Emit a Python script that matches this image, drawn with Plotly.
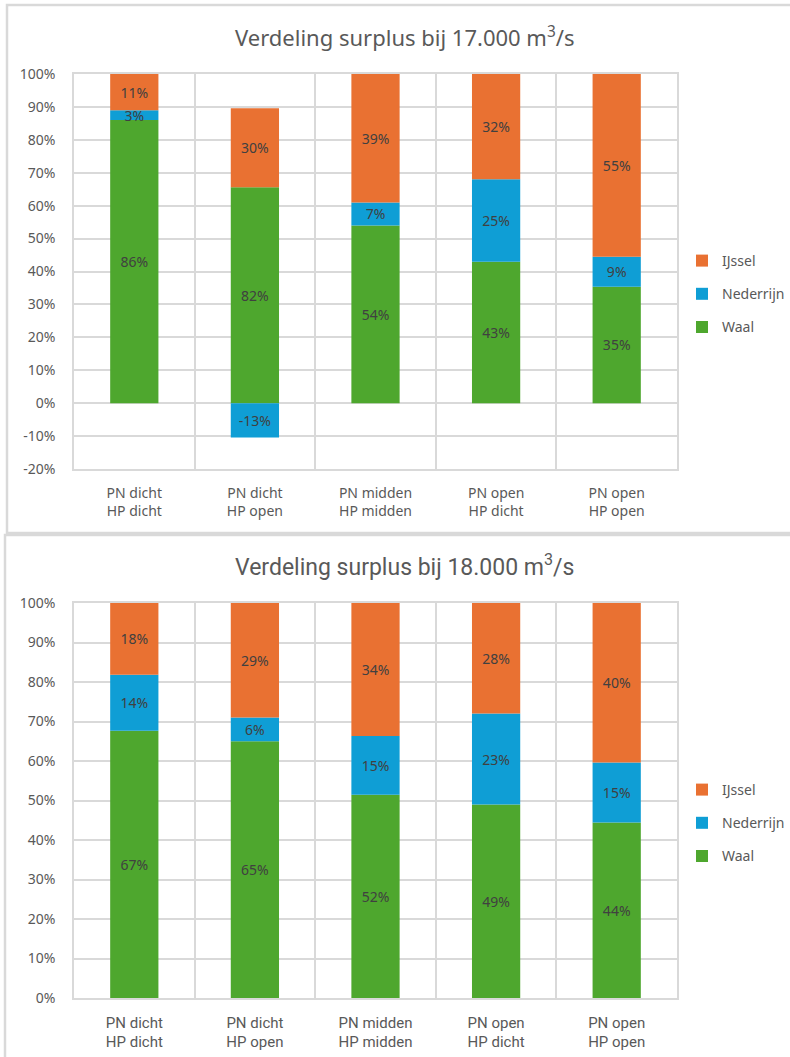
import plotly.graph_objects as go

# ---------------- data ----------------
categories = ["PN dicht<br>HP dicht", "PN dicht<br>HP open", "PN midden<br>HP midden",
              "PN open<br>HP dicht", "PN open<br>HP open"]
series_names = ["Waal", "Nederrijn", "IJssel"]
series_colors = ["#4EA72E", "#0F9ED5", "#E97132"]
legend_ranks = [3, 2, 1]

waal_17 = [86, 82, 54, 43, 35]
nederrijn_17 = [3, -13, 7, 25, 9]
ijssel_17 = [11, 30, 39, 32, 55]

waal_18 = [67, 65, 52, 49, 44]
nederrijn_18 = [14, 6, 15, 23, 15]
ijssel_18 = [18, 29, 34, 28, 40]

yticks_17 = [-20, -10, 0, 10, 20, 30, 40, 50, 60, 70, 80, 90, 100]
yticklabels_17 = ["-20%", "-10%", "0%", "10%", "20%", "30%", "40%", "50%", "60%", "70%", "80%", "90%", "100%"]
yticks_18 = [0, 10, 20, 30, 40, 50, 60, 70, 80, 90, 100]
yticklabels_18 = ["0%", "10%", "20%", "30%", "40%", "50%", "60%", "70%", "80%", "90%", "100%"]

title_17 = "Verdeling surplus bij 17.000 m<sup>3</sup>/s"
title_18 = "Verdeling surplus bij 18.000 m<sup>3</sup>/s"

# ---------------- styling ----------------
W, H = 790, 1057
GRID = "#D9D9D9"
TXT = "#595959"
LBL = "#404040"
FONT_TOP = "Noto Sans, Open Sans, sans-serif"
FONT_BOT = "Roboto, Noto Sans, sans-serif"


def px_x(p):
    return p / W


def px_y(p):
    return 1 - p / H


def normalise(series):
    # Excel 100%-stacked: share relative to the sum of absolute values
    totals = [sum(abs(s[i]) for s in series) for i in range(len(series[0]))]
    return [[100.0 * s[i] / totals[i] for i in range(len(s))] for s in series]


fig = go.Figure()

charts = [
    ([waal_17, nederrijn_17, ijssel_17], "x", "y", "legend", "a"),
    ([waal_18, nederrijn_18, ijssel_18], "x2", "y2", "legend2", "b"),
]

for series, xa, ya, lg, tag in charts:
    normed = normalise(series)
    for name, color, rank, raw, nv in zip(series_names, series_colors, legend_ranks, series, normed):
        fig.add_trace(go.Bar(
            x=categories, y=nv, name=name, marker=dict(color=color, line=dict(width=0)),
            text=[f"{v}%" for v in raw], textposition="inside", insidetextanchor="middle",
            textangle=0, constraintext="none",
            textfont=dict(color=LBL, size=14, family=FONT_TOP),
            xaxis=xa, yaxis=ya, legend=lg, legendgroup=tag + name, legendrank=rank,
            hoverinfo="skip",
        ))

axis_common = dict(showgrid=True, gridcolor=GRID, gridwidth=1.5, showline=True,
                   linecolor=GRID, linewidth=1.5, mirror=True, zeroline=False,
                   ticks="", fixedrange=True, automargin=False)

fig.update_layout(
    width=W, height=H, margin=dict(l=0, r=0, t=0, b=0, autoexpand=False),
    paper_bgcolor="white", plot_bgcolor="white",
    barmode="relative", bargap=0.6,
    showlegend=True,
    xaxis=dict(domain=[px_x(74), px_x(677)], anchor="y", tickson="boundaries",
               ticklabelstandoff=10,
               tickfont=dict(family=FONT_TOP, size=14, color=TXT), **axis_common),
    yaxis=dict(domain=[px_y(469), px_y(74)], anchor="x", range=[-20, 100],
               tickvals=yticks_17, ticktext=yticklabels_17, ticklabelstandoff=14,
               tickfont=dict(family=FONT_TOP, size=14, color=TXT), **axis_common),
    xaxis2=dict(domain=[px_x(74), px_x(677)], anchor="y2", tickson="boundaries",
                ticklabelstandoff=10,
                tickfont=dict(family=FONT_BOT, size=15, color=TXT), **axis_common),
    yaxis2=dict(domain=[px_y(998), px_y(603)], anchor="x2", range=[0, 100],
                tickvals=yticks_18, ticktext=yticklabels_18, ticklabelstandoff=14,
                tickfont=dict(family=FONT_TOP, size=14, color=TXT), **axis_common),
    legend=dict(x=px_x(682), y=px_y(294), xanchor="left", yanchor="middle",
                traceorder="grouped", tracegroupgap=12, itemwidth=30,
                font=dict(family=FONT_TOP, size=14, color=TXT), bgcolor="rgba(0,0,0,0)"),
    legend2=dict(x=px_x(682), y=px_y(823), xanchor="left", yanchor="middle",
                 traceorder="grouped", tracegroupgap=12, itemwidth=30,
                 font=dict(family=FONT_TOP, size=14, color=TXT), bgcolor="rgba(0,0,0,0)"),
    annotations=[
        dict(text=title_17, x=px_x(405), y=px_y(36), xref="paper", yref="paper",
             xanchor="center", yanchor="middle", showarrow=False,
             font=dict(family=FONT_TOP, size=22, color=TXT)),
        dict(text=title_18, x=px_x(405), y=px_y(565), xref="paper", yref="paper",
             xanchor="center", yanchor="middle", showarrow=False,
             font=dict(family=FONT_BOT, size=23, color=TXT)),
    ],
    shapes=[
        dict(type="rect", xref="paper", yref="paper", x0=px_x(7), x1=px_x(794),
             y0=px_y(533), y1=px_y(5), line=dict(color=GRID, width=2.5)),
        dict(type="rect", xref="paper", yref="paper", x0=px_x(5), x1=px_x(794),
             y0=px_y(1062), y1=px_y(535), line=dict(color=GRID, width=2.5)),
    ],
)

fig.write_html("out.html")
